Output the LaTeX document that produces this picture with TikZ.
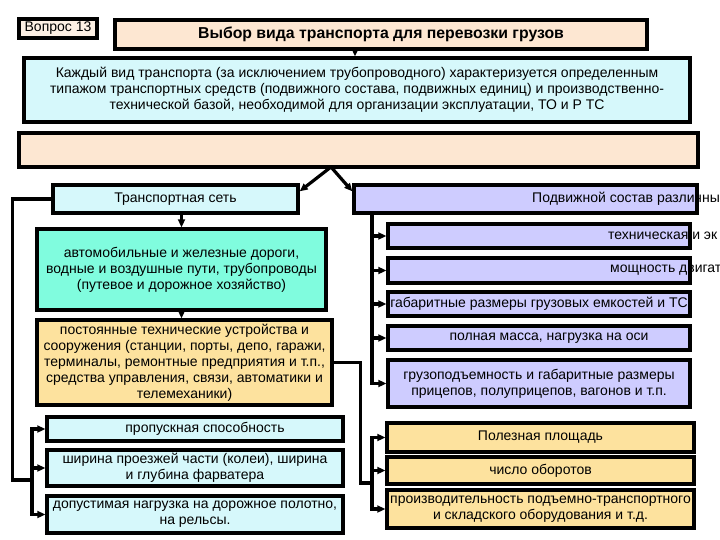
\documentclass[tikz,border=0pt]{standalone}
\usepackage{fontspec}
\setmainfont{Liberation Sans}
\usetikzlibrary{positioning,arrows.meta}
\definecolor{peachFill}{RGB}{253,231,210}
\definecolor{cyanFill}{RGB}{214,248,251}
\definecolor{aquaFill}{RGB}{128,252,222}
\definecolor{lavFill}{RGB}{206,204,255}
\definecolor{ochreFill}{RGB}{253,226,158}
\definecolor{qFill}{RGB}{253,240,228}
\begin{document}
\begin{tikzpicture}[x=1pt,y=-1pt,font=\fontsize{14}{16}\selectfont,>={Triangle[length=8pt,width=7pt]},
  box/.style ={draw=black,line width=3.4pt,align=center,inner sep=0.5pt},
  hd/.style  ={box,fill=peachFill},
  cy/.style  ={box,fill=cyanFill},
  aq/.style  ={box,fill=aquaFill},
  lv/.style  ={box,fill=lavFill},
  oc/.style  ={box,fill=ochreFill},
  txt/.style ={inner sep=0pt,anchor=west},
  flow/.style={->,line width=3.2pt},
  wire/.style={line width=3.2pt}]
\useasboundingbox (0,0) rectangle (720,540);

% header
\node[box,fill=qFill,minimum width=78pt,minimum height=19pt,font=\fontsize{14}{15}\selectfont] (q) at (58,28.5) {Вопрос 13};
\node[hd,minimum width=532pt,minimum height=29pt,font=\fontsize{15.8}{17}\selectfont\bfseries] (title) at (381,34.5) {Выбор вида транспорта для перевозки грузов};
\node[cy,minimum width=666pt,minimum height=64pt] (desc) at (357,90) {Каждый вид транспорта (за исключением трубопроводного) характеризуется определенным\\ типажом транспортных средств (подвижного состава, подвижных единиц) и производственно-\\ технической базой, необходимой для организации эксплуатации, ТО и Р ТС};
\node[hd,minimum width=679pt,minimum height=34pt] (blank) at (358.5,150) {};

% two branches
\node[cy,minimum width=245pt,minimum height=28pt] (tnet) at (175.5,199) {Транспортная сеть};
\node[lv,minimum width=343pt,minimum height=28pt] (ps) at (525.5,199) {};
\node[txt] (ps-t) at (532,199) {Подвижной состав различны};

% left column
\node[aq,minimum width=289pt,minimum height=81pt] (roads) at (181.5,269.5) {автомобильные и железные дороги,\\ водные и воздушные пути, трубопроводы\\ (путевое и дорожное хозяйство)};
\node[oc,minimum width=295pt,minimum height=85pt] (infra) at (184.5,362.5) {постоянные технические устройства и\\ сооружения (станции, порты, депо, гаражи,\\ терминалы, ремонтные предприятия и т.п.,\\ средства управления, связи, автоматики и\\ телемеханики)};
\node[cy,minimum width=296pt,minimum height=24pt] (l1) at (195,429) {\hspace{20pt}пропускная способность};
\node[cy,minimum width=296pt,minimum height=36pt] (l2) at (195,468) {ширина проезжей части (колеи), ширина\\ и глубина фарватера};
\node[cy,minimum width=296pt,minimum height=37pt] (l3) at (195,514.5) {допустимая нагрузка на дорожное полотно,\\ на рельсы.};

% right column
\node[lv,minimum width=302pt,minimum height=24pt] (p1) at (539,236) {};
\node[txt] (p1-t) at (608,236) {техническая и эк};
\node[lv,minimum width=302pt,minimum height=25pt] (p2) at (539,270.5) {};
\node[txt] (p2-t) at (610,270.5) {мощность двигат};
\node[lv,minimum width=302pt,minimum height=24pt] (p3) at (539,304) {габаритные размеры грузовых емкостей и ТС};
\node[lv,minimum width=302pt,minimum height=24pt] (p4) at (539,338) {\hspace{20pt}полная масса, нагрузка на оси};
\node[lv,minimum width=302pt,minimum height=47pt] (p5) at (539,383.5) {грузоподъемность и габаритные размеры\\ прицепов, полуприцепов, вагонов и т.п.};
\node[oc,minimum width=307pt,minimum height=29pt] (y1) at (540.5,437.5) {Полезная площадь};
\node[oc,minimum width=307pt,minimum height=27pt] (y2) at (540.5,470.5) {число оборотов};
\node[oc,minimum width=307pt,minimum height=38pt] (y3) at (540.5,509) {производительность подъемно-транспортного\\ и складского оборудования и т.д.};

% connectors
\coordinate (split) at (331,167);
\coordinate (lbus) at (32,480);
\coordinate (rbus) at (372,213);
\coordinate (ybus) at (372,483);
\draw[flow] ([xshift=-26pt]title.south) -- ([xshift=-26pt]title.south |- desc.north);
\draw[flow] (split) -- ([yshift=-8pt]tnet.north east);
\draw[flow] (split) -- ([yshift=-8pt]ps.north west);
\draw[flow] (roads.north |- tnet.south) -- (roads.north);
\draw[flow] (roads.south) -- (roads.south |- infra.north);
\draw[wire] (tnet.west) -- ++(-39,0) |- (lbus);
\draw[flow] (lbus) |- (l1.west);
\draw[flow] (lbus) |- (l2.west);
\draw[flow] (lbus) |- (l3.west);
\foreach \n in {p1,p2,p3,p4,p5}
  \draw[flow] (rbus) |- (\n.west);
\draw[wire] (infra.east) -- ++(27,0) |- (ybus);
\foreach \n in {y1,y2,y3}
  \draw[flow] (ybus) |- (\n.west);
\end{tikzpicture}
\end{document}
